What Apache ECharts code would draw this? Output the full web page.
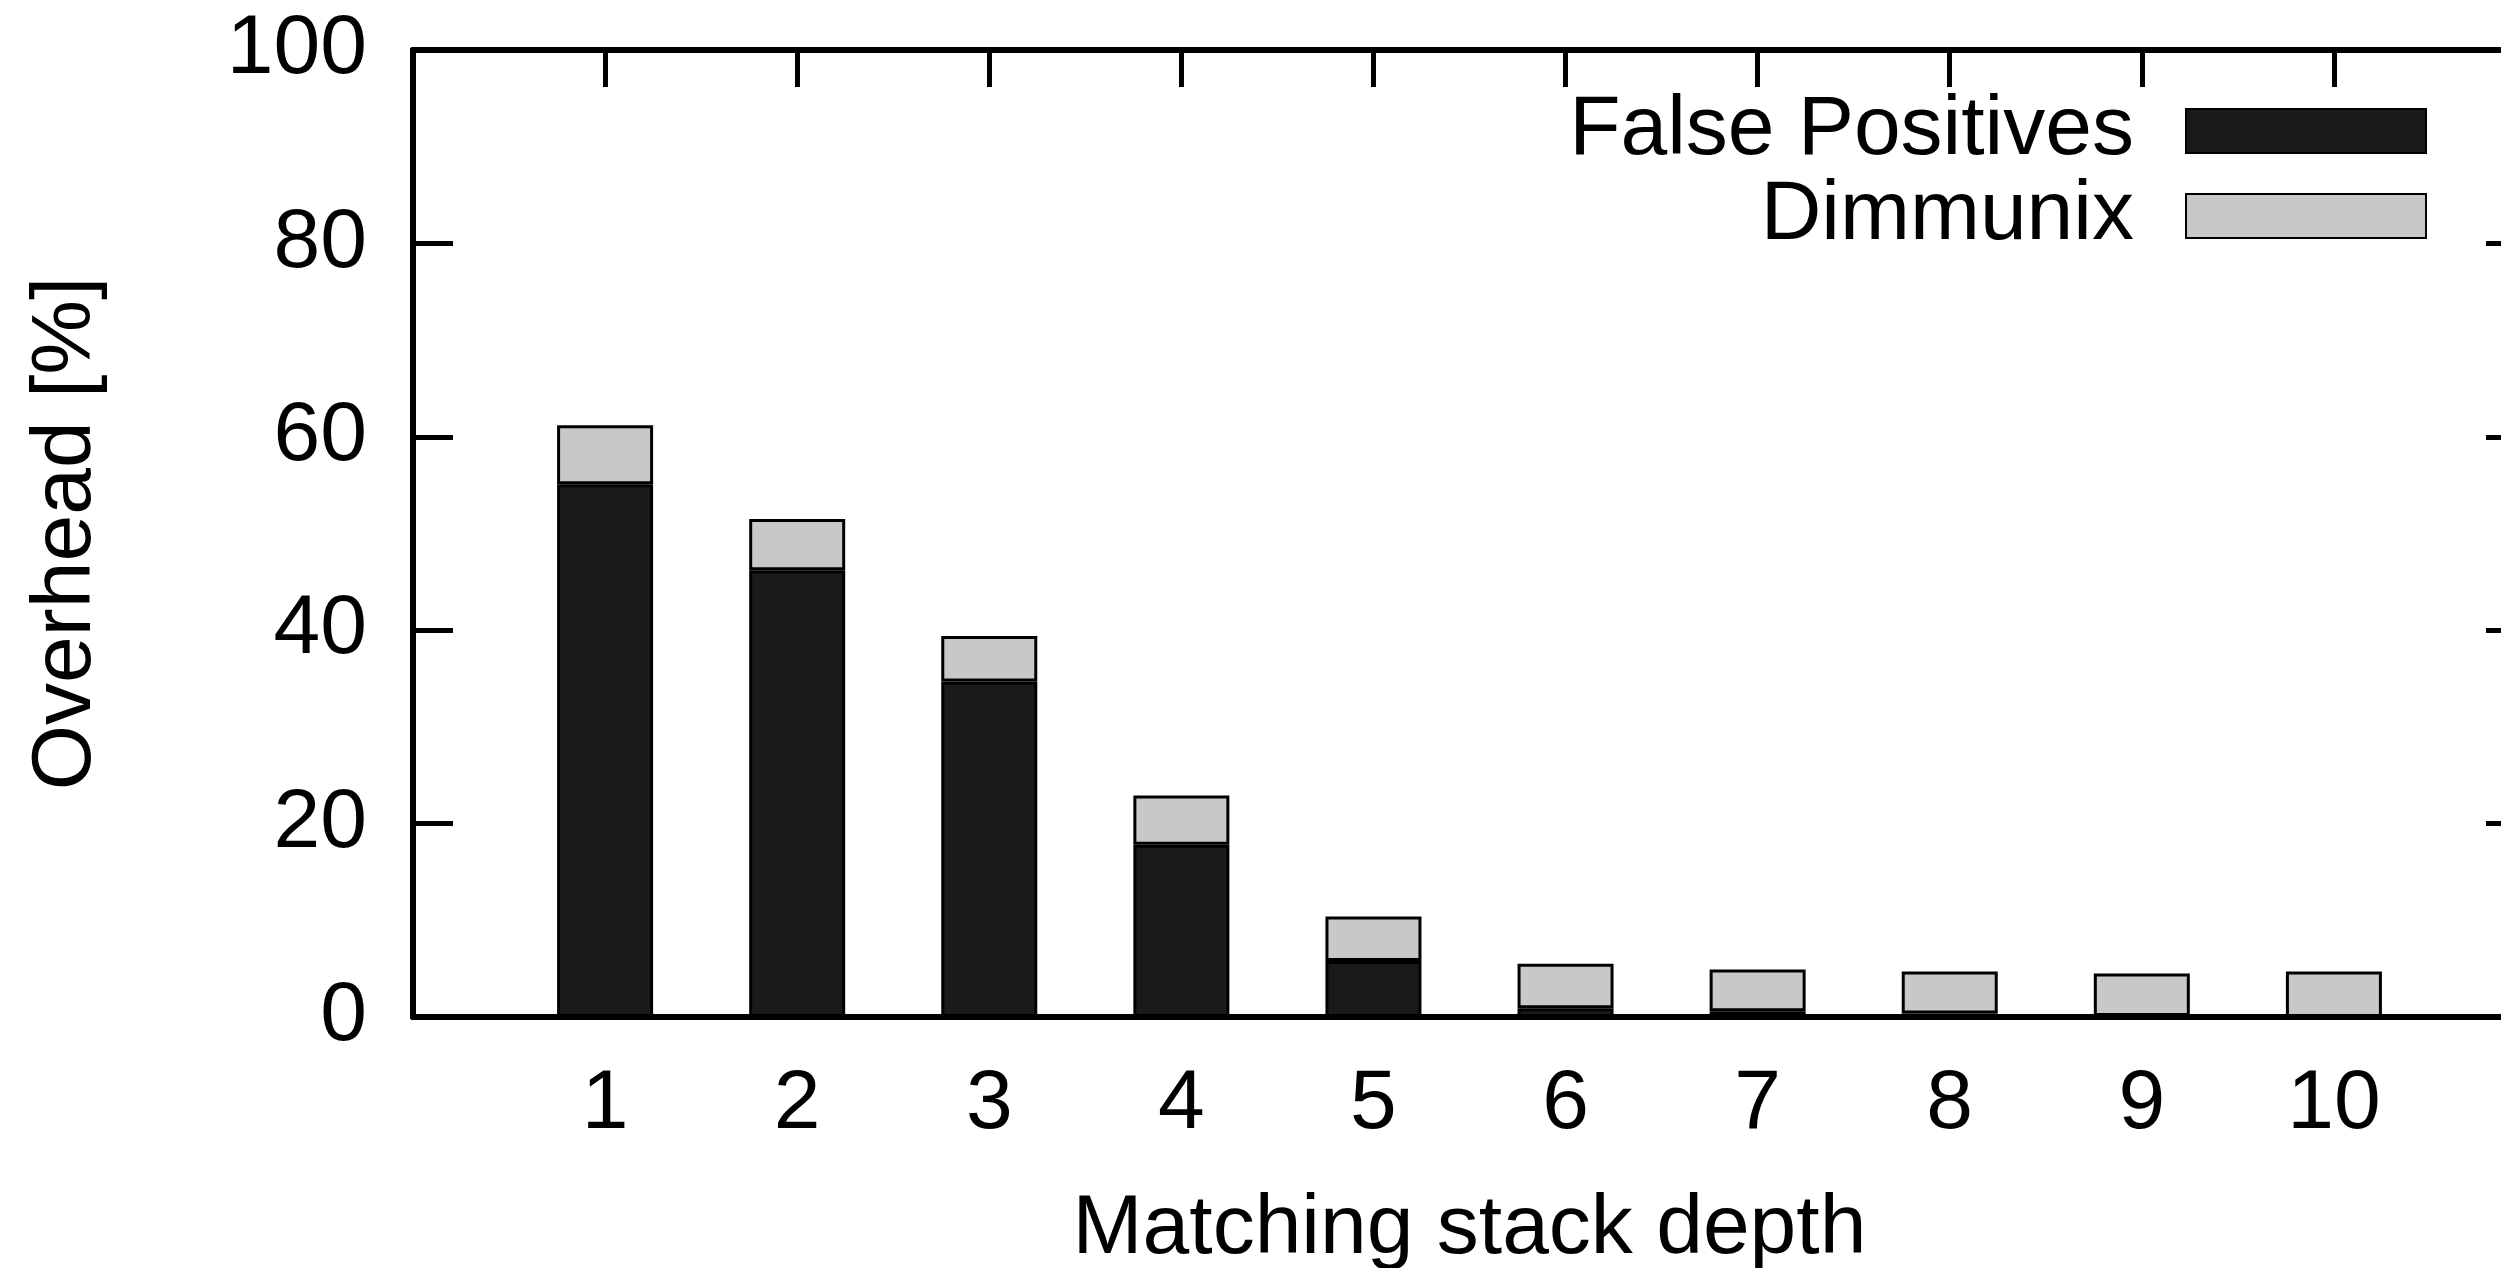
<!DOCTYPE html>
<html>
<head>
<meta charset="utf-8">
<script src="https://cdn.jsdelivr.net/npm/echarts@6/dist/echarts.min.js"></script>
<style>
  html, body { margin: 0; padding: 0; background: #fff; }
  #chart { width: 2501px; height: 1268px; }
</style>
</head>
<body>
<div id="chart"></div>
<script>
// stack depth on the x axis
const depths = ['1', '2', '3', '4', '5', '6', '7', '8', '9', '10']
// overhead in percent
const falsePositives = [55.1, 46.2, 34.7, 17.8, 5.8, 0.9, 0.6, 0.35, 0.1, 0]
const dimmunix = [6.1, 5.3, 4.7, 5.1, 4.6, 4.6, 4.3, 4.35, 4.4, 4.7]

const FONT = "'Liberation Sans', Arial, Helvetica, sans-serif"
const FS = 84
const chart = echarts.init(document.getElementById('chart'))

// the x range runs from 0 to 11, so pad an empty slot at each end
const cats = ['', ...depths, '']
const pad = arr => [null, ...arr, null]

const lineStyle = { color: '#000', width: 6 }
const tickStyle = { color: '#000', width: 5 }

chart.setOption({
  animation: false,
  backgroundColor: '#fff',
  textStyle: { fontFamily: FONT, color: '#000' },
  grid: { left: 413, right: -25, top: 50, bottom: 251, outerBoundsMode: 'none' },
  legend: {
    data: ['False Positives', 'Dimmunix'],
    orient: 'vertical',
    align: 'right',
    right: 69,
    top: 84,
    itemWidth: 240,
    itemHeight: 44,
    itemGap: 1,
    icon: 'rect',
    selectedMode: false,
    textStyle: { fontSize: FS, fontFamily: FONT, color: '#000', padding: [0, 47, 0, 0] }
  },
  xAxis: [
    {
      type: 'category', data: cats, boundaryGap: false, position: 'bottom', z: 5,
      name: 'Matching stack depth', nameLocation: 'middle', nameGap: 171,
      nameTextStyle: { fontSize: FS, fontFamily: FONT, color: '#000' },
      axisLine: { show: true, onZero: false, lineStyle },
      axisTick: { show: false },
      splitLine: { show: false },
      axisLabel: { interval: 0, fontSize: FS, fontFamily: FONT, color: '#000', margin: 46 }
    },
    {
      // mirrored top border with ticks
      type: 'category', data: cats, boundaryGap: false, position: 'top', z: 5,
      axisLine: { show: true, onZero: false, lineStyle },
      axisTick: { show: true, inside: true, interval: 0, length: 37, lineStyle: tickStyle },
      splitLine: { show: false },
      axisLabel: { show: false }
    }
  ],
  yAxis: [
    {
      type: 'value', min: 0, max: 100, interval: 20, position: 'left', z: 5,
      name: 'Overhead [%]', nameLocation: 'middle', nameGap: 304,
      nameTextStyle: { fontSize: FS, fontFamily: FONT, color: '#000' },
      axisLine: { show: true, onZero: false, lineStyle },
      axisTick: { show: true, inside: true, length: 40, lineStyle: tickStyle },
      splitLine: { show: false },
      axisLabel: { fontSize: FS, fontFamily: FONT, color: '#000', margin: 46 }
    },
    {
      // mirrored right border
      type: 'value', min: 0, max: 100, interval: 20, position: 'right', z: 5,
      axisLine: { show: true, onZero: false, lineStyle },
      axisTick: { show: true, inside: true, length: 40, lineStyle: tickStyle },
      splitLine: { show: false },
      axisLabel: { show: false }
    }
  ],
  series: [
    {
      name: 'False Positives',
      type: 'bar',
      stack: 'total',
      barWidth: 96,
      data: pad(falsePositives),
      itemStyle: { color: '#1a1a1a', borderColor: '#000', borderWidth: 3 }
    },
    {
      name: 'Dimmunix',
      type: 'bar',
      stack: 'total',
      barWidth: 96,
      data: pad(dimmunix),
      itemStyle: { color: '#c8c8c8', borderColor: '#000', borderWidth: 3 }
    }
  ]
})
</script>
</body>
</html>
